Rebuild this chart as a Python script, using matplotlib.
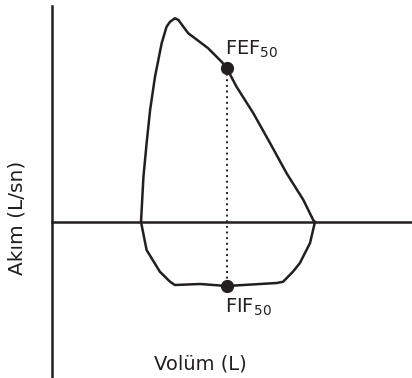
import matplotlib
matplotlib.use("Agg")
import matplotlib.pyplot as plt

# -----------------------------
# Flow-volume loop data (L, L/sn)
# -----------------------------

exp_volume = [0.00, 0.07, 0.16, 0.26, 0.40, 0.59, 0.73, 0.83, 0.97, 1.07, 1.21, 1.35,
              1.54, 1.91, 2.31, 2.45, 2.73, 3.21, 3.69, 4.16, 4.64, 4.92, 4.97]
exp_flow = [0.00, 1.81, 3.15, 4.48, 5.81, 7.15, 7.81, 8.01, 8.15, 8.08, 7.81, 7.55,
            7.35, 6.96, 6.40, 6.15, 5.41, 4.35, 3.15, 1.95, 0.88, 0.08, 0.00]

insp_volume = [0.00, 0.16, 0.54, 0.83, 0.97, 1.69, 2.45, 3.88, 4.06, 4.34, 4.54, 4.83, 4.97]
insp_flow = [0.00, -1.12, -1.99, -2.39, -2.52, -2.48, -2.56, -2.44, -2.39, -1.99, -1.64, -0.84, 0.00]

fef50_volume, fef50_flow = 2.45, 6.15
fif50_volume, fif50_flow = 2.45, -2.56

line_color = "#231f20"
plt.rcParams["font.family"] = "DejaVu Sans"
plt.rcParams["mathtext.default"] = "regular"

# -----------------------------
# Figure
# -----------------------------

fig = plt.figure(figsize=(4.12, 3.78), dpi=100)
ax = fig.add_axes([52 / 412, 0.0, 360 / 412, 372 / 378])

ax.plot(exp_volume, exp_flow, color=line_color, lw=1.8, solid_joinstyle="round")
ax.plot(insp_volume, insp_flow, color=line_color, lw=1.8, solid_joinstyle="round")

ax.plot([fef50_volume, fif50_volume], [fef50_flow, fif50_flow],
        color=line_color, lw=1.4, linestyle=(0, (1, 1.9)))
ax.plot([fef50_volume, fif50_volume], [fef50_flow, fif50_flow], "o",
        color=line_color, markersize=8.5, clip_on=False)

ax.text(2.40, 6.68, "FEF$_{50}$", fontsize=14, ha="left", va="baseline", color=line_color)
ax.text(2.40, -3.64, "FIF$_{50}$", fontsize=14, ha="left", va="baseline", color=line_color)

ax.set_xlim(-2.543, 7.743)
ax.set_ylim(-6.24, 8.64)

ax.spines["top"].set_visible(False)
ax.spines["right"].set_visible(False)
ax.spines["bottom"].set_position(("data", 0))
for side in ("left", "bottom"):
    ax.spines[side].set_linewidth(1.8)
    ax.spines[side].set_color(line_color)
ax.set_xticks([])
ax.set_yticks([])
ax.patch.set_alpha(0)

fig.text(17.5 / 412, 1 - 218 / 378, "Akım (L/sn)", rotation=90, fontsize=14.5,
         ha="center", va="center", color=line_color)
fig.text(200 / 412, 1 - 364 / 378, "Volüm (L)", fontsize=14,
         ha="center", va="center", color=line_color)

fig.savefig("out.png", dpi=100)
